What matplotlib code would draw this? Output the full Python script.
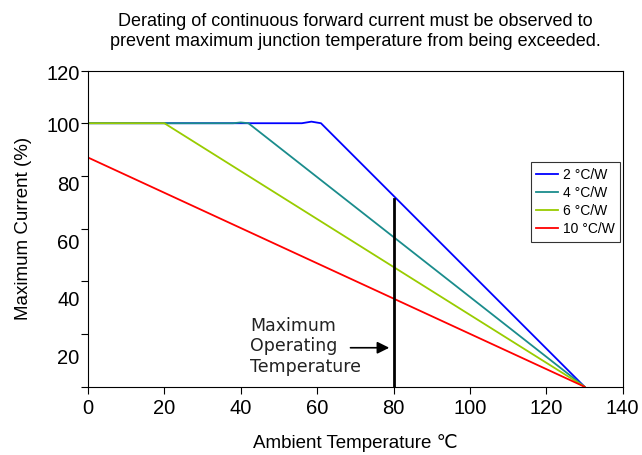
import matplotlib
matplotlib.use("Agg")
import matplotlib.pyplot as plt

plt.rcParams['font.family'] = ['Liberation Sans', 'DejaVu Sans']

# Data: (temperature, current %) knee points for each thermal resistance
labels = ["2 °C/W", "4 °C/W", "6 °C/W", "10 °C/W"]
colors = ["#0000ff", "#1a8c8c", "#99cc00", "#ff0000"]
temps = [
    [0, 56, 58.5, 61, 130],
    [0, 38, 40, 42, 130],
    [0, 20, 130],
    [0, 130],
]
currents = [
    [100, 100, 100.6, 100, 0],
    [100, 100, 100.3, 100, 0],
    [100, 100, 0],
    [87, 0],
]
max_op_temp = 80
max_op_current = 100 * (130 - 80) / (130 - 60)

fig = plt.figure(figsize=(6.42, 4.55), dpi=100)
ax = fig.add_axes([0.137, 0.150, 0.833, 0.695])

for t, c, lab, col in zip(temps, currents, labels, colors):
    ax.plot(t, c, color=col, lw=1.3, label=lab)

ax.plot([max_op_temp, max_op_temp], [0, max_op_current], color='black', lw=2)
ax.annotate('', xy=(max_op_temp - 0.4, 14.8), xytext=(68, 14.8),
            arrowprops=dict(arrowstyle='-|>', color='black', lw=1.2, mutation_scale=18))
ax.text(42.5, 15.3, "Maximum\nOperating\nTemperature", fontsize=12.5,
        family=['DejaVu Sans'], color='#222222', va='center', ha='left', linespacing=1.2)

ax.set_xlim(0, 140)
ax.set_ylim(0, 120)
ax.set_xticks(range(0, 141, 20))
ax.tick_params(axis='x', labelsize=14.5, direction='out', length=5)
# tick marks on the 0-120 scale, labels sit slightly offset as in the source chart
ax.set_yticks(range(0, 121, 20))
ax.set_yticklabels([])
ax.tick_params(axis='y', which='major', direction='out', length=5)
ylab_vals = [120, 100, 80, 60, 40, 20]
ylab_pos = [119.4, 99.6, 77.3, 55.2, 33.6, 11.4]
ax.set_yticks(ylab_pos, minor=True)
ax.set_yticklabels([str(v) for v in ylab_vals], minor=True)
ax.tick_params(axis='y', which='minor', length=0, labelsize=14.5, pad=6)

ax.set_ylabel("Maximum Current (%)", fontsize=13.5, labelpad=10)
ax.set_xlabel("Ambient Temperature ℃", fontsize=13.5, labelpad=12)
ax.set_title("Derating of continuous forward current must be observed to\n"
             "prevent maximum junction temperature from being exceeded.",
             fontsize=13, pad=18, linespacing=1.22)

leg = ax.legend(loc='upper right', bbox_to_anchor=(0.995, 0.71), fontsize=10,
                frameon=True, fancybox=False, edgecolor='black',
                handlelength=1.6, handletextpad=0.3, borderpad=0.4, labelspacing=0.3,
                borderaxespad=0.0)
leg.get_frame().set_linewidth(0.8)

plt.savefig('out.png', dpi=100)
